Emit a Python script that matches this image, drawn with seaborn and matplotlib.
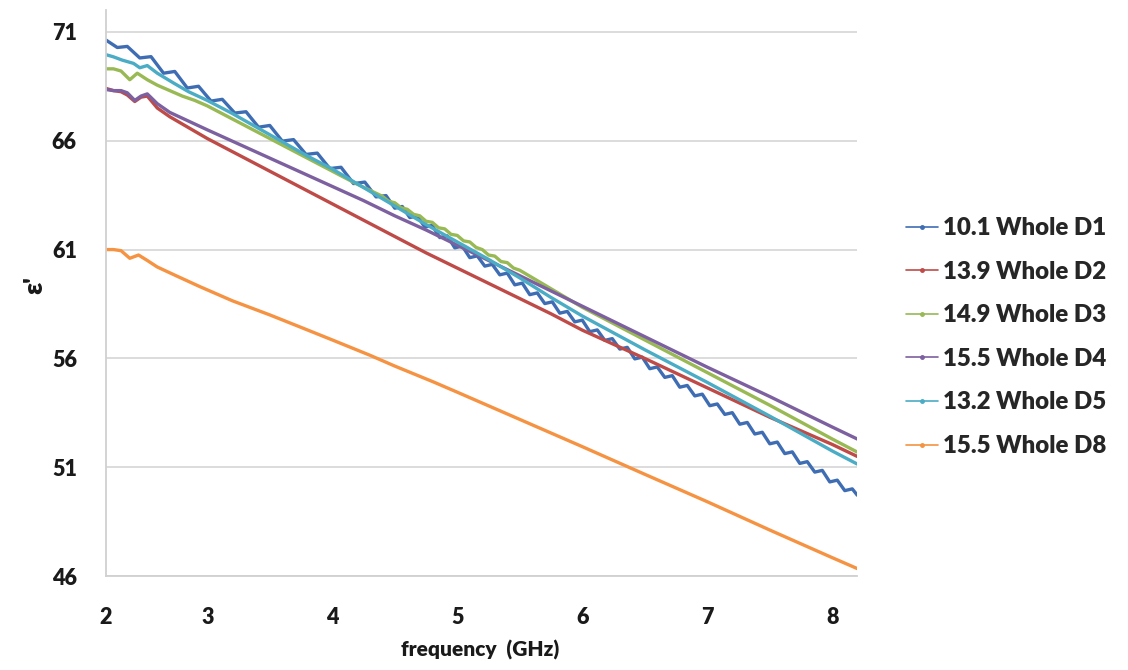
import matplotlib
matplotlib.use("Agg")
import matplotlib.pyplot as plt
from matplotlib.lines import Line2D
import pandas as pd
import seaborn as sns

# Real part of permittivity vs frequency for six whole samples
labels = ["10.1 Whole D1", "13.9 Whole D2", "14.9 Whole D3",
          "15.5 Whole D4", "13.2 Whole D5", "15.5 Whole D8"]
colors = ["#3F6DB4", "#BE4B48", "#98B954", "#7D60A0", "#4AACC5", "#F59342"]

freq_d1 = [2.19, 2.28, 2.36, 2.46, 2.55, 2.65, 2.74, 2.84, 2.93, 3.03, 3.12, 3.22,
           3.31, 3.41, 3.50, 3.60, 3.69, 3.79, 3.88, 3.98, 4.07, 4.17, 4.26, 4.35,
           4.43, 4.50, 4.56, 4.62, 4.68, 4.74, 4.80, 4.86, 4.92, 4.98, 5.04, 5.10,
           5.16, 5.22, 5.28, 5.34, 5.40, 5.46, 5.52, 5.58, 5.64, 5.70, 5.76, 5.82,
           5.88, 5.94, 6.00, 6.06, 6.12, 6.18, 6.24, 6.30, 6.36, 6.42, 6.48, 6.54,
           6.60, 6.66, 6.72, 6.78, 6.84, 6.90, 6.96, 7.02, 7.08, 7.14, 7.20, 7.26,
           7.32, 7.38, 7.44, 7.50, 7.56, 7.62, 7.68, 7.74, 7.80, 7.86, 7.92, 7.98,
           8.04, 8.10, 8.16, 8.20]
eps_d1 = [70.62, 70.28, 70.33, 69.80, 69.86, 69.10, 69.18, 68.42, 68.50, 67.82, 67.90, 67.27,
          67.33, 66.62, 66.70, 65.98, 66.05, 65.37, 65.43, 64.72, 64.78, 64.03, 64.10, 63.42,
          63.48, 62.90, 62.98, 62.47, 62.55, 62.03, 62.11, 61.55, 61.63, 61.08, 61.16, 60.63,
          60.71, 60.24, 60.32, 59.84, 59.92, 59.38, 59.46, 58.93, 59.01, 58.52, 58.60, 58.08,
          58.16, 57.68, 57.76, 57.23, 57.31, 56.83, 56.91, 56.43, 56.51, 55.98, 56.06, 55.53,
          55.61, 55.13, 55.21, 54.68, 54.76, 54.28, 54.36, 53.83, 53.91, 53.43, 53.51, 52.98,
          53.06, 52.53, 52.61, 52.08, 52.16, 51.63, 51.71, 51.18, 51.26, 50.78, 50.86, 50.33,
          50.41, 49.93, 50.01, 49.72]

freq_d2 = [2.19, 2.25, 2.31, 2.36, 2.42, 2.47, 2.52, 2.60, 2.70, 2.85, 3.00, 3.25,
           3.50, 3.75, 4.00, 4.25, 4.50, 4.75, 5.00, 5.25, 5.50, 5.75, 6.00, 6.50,
           7.00, 7.50, 8.00, 8.20]
eps_d2 = [68.40, 68.30, 68.25, 68.10, 67.80, 68.00, 68.05, 67.50, 67.10, 66.60, 66.10, 65.35,
          64.60, 63.85, 63.10, 62.35, 61.60, 60.85, 60.15, 59.45, 58.75, 58.05, 57.30, 56.00,
          54.65, 53.30, 52.05, 51.50]

freq_d3 = [2.19, 2.25, 2.31, 2.38, 2.44, 2.52, 2.60, 2.70, 2.80, 2.90, 3.00, 3.20,
           3.40, 3.60, 3.80, 4.00, 4.20, 4.40, 4.45, 4.50, 4.55, 4.60, 4.65, 4.70,
           4.75, 4.80, 4.85, 4.90, 4.95, 5.00, 5.05, 5.10, 5.15, 5.20, 5.25, 5.30,
           5.35, 5.40, 5.45, 5.50, 5.75, 6.00, 6.50, 7.00, 7.50, 8.00, 8.20]
eps_d3 = [69.30, 69.30, 69.20, 68.80, 69.10, 68.80, 68.55, 68.30, 68.05, 67.85, 67.60, 67.00,
          66.40, 65.80, 65.20, 64.60, 64.00, 63.45, 63.22, 63.15, 62.92, 62.85, 62.62, 62.55,
          62.30, 62.25, 62.00, 61.95, 61.70, 61.65, 61.40, 61.35, 61.10, 61.00, 60.75, 60.70,
          60.45, 60.40, 60.15, 60.05, 59.20, 58.35, 56.85, 55.35, 53.85, 52.30, 51.70]

freq_d4 = [2.19, 2.25, 2.31, 2.36, 2.42, 2.47, 2.52, 2.60, 2.70, 2.85, 3.00, 3.25,
           3.50, 3.75, 4.00, 4.25, 4.50, 4.75, 5.00, 5.50, 6.00, 6.50, 7.00, 7.50,
           8.00, 8.20]
eps_d4 = [68.35, 68.30, 68.30, 68.20, 67.85, 68.05, 68.15, 67.70, 67.30, 66.90, 66.50, 65.85,
          65.20, 64.55, 63.90, 63.25, 62.55, 61.90, 61.20, 59.80, 58.40, 57.00, 55.60, 54.25,
          52.85, 52.30]

freq_d5 = [2.19, 2.25, 2.32, 2.41, 2.46, 2.52, 2.60, 2.73, 2.85, 3.00, 3.20, 3.40,
           3.60, 3.80, 4.00, 4.25, 4.50, 4.75, 5.00, 5.25, 5.50, 5.75, 6.00, 6.50,
           7.00, 7.50, 8.00, 8.20]
eps_d5 = [69.95, 69.85, 69.70, 69.55, 69.35, 69.45, 69.10, 68.65, 68.25, 67.85, 67.25, 66.60,
          65.95, 65.30, 64.70, 63.85, 63.00, 62.15, 61.35, 60.55, 59.70, 58.80, 57.95, 56.40,
          54.90, 53.35, 51.75, 51.15]

freq_d8 = [2.19, 2.25, 2.31, 2.38, 2.45, 2.52, 2.60, 2.75, 2.94, 3.20, 3.50, 3.74,
           4.00, 4.30, 4.50, 4.81, 5.00, 5.50, 6.00, 6.50, 7.00, 7.50, 8.00, 8.20]
eps_d8 = [61.00, 61.00, 60.95, 60.60, 60.75, 60.50, 60.20, 59.80, 59.30, 58.65, 58.00, 57.45,
          56.85, 56.15, 55.65, 54.92, 54.45, 53.20, 51.95, 50.68, 49.42, 48.12, 46.85, 46.35]

x_tick_labels = ["2", "3", "4", "5", "6", "7", "8"]
y_ticks = [46, 51, 56, 61, 66, 71]

series = [(freq_d1, eps_d1), (freq_d2, eps_d2), (freq_d3, eps_d3),
          (freq_d4, eps_d4), (freq_d5, eps_d5), (freq_d8, eps_d8)]
frames = [pd.DataFrame({"frequency": f, "eps": e, "sample": name})
          for (f, e), name in zip(series, labels)]
df = pd.concat(frames, ignore_index=True)

sns.set_theme(style="white")
plt.rcParams["font.family"] = ["Lato", "DejaVu Sans"]
plt.rcParams["font.weight"] = "bold"

text_color = "#1a1a1a"

fig = plt.figure(figsize=(11.28, 6.70), dpi=100)
ax = fig.add_axes([0.094, 0.140, 0.666, 0.845])

ax.yaxis.grid(True, color="#D9D9D9", linewidth=1.3)
ax.set_axisbelow(True)

sns.lineplot(data=df, x="frequency", y="eps", hue="sample", hue_order=labels,
             palette=colors, estimator=None, linewidth=2.4, legend=False, ax=ax)

f_start, f_end = freq_d1[0], freq_d1[-1]
ax.set_xlim(f_start, f_end)
ax.set_ylim(46, 72)
ax.set_xticks([f_start, 3, 4, 5, 6, 7, 8])
ax.set_xticklabels(x_tick_labels)
ax.set_yticks(y_ticks)
ax.set_yticklabels([str(v) for v in y_ticks])
ax.tick_params(axis="both", length=0, labelsize=15.5, colors=text_color)
ax.tick_params(axis="y", pad=21)
ax.tick_params(axis="x", pad=22)
for lab in ax.get_xticklabels() + ax.get_yticklabels():
    lab.set_fontweight("heavy")

for side in ["top", "right"]:
    ax.spines[side].set_visible(False)
for side in ["left", "bottom"]:
    ax.spines[side].set_color("#D0D0D0")
    ax.spines[side].set_linewidth(1.3)

ax.set_xlabel("frequency  (GHz)", fontsize=15, fontweight="heavy", color=text_color)
ax.xaxis.set_label_coords(0.498, -0.113)
ax.set_ylabel("ε'", fontsize=19, fontweight="heavy", color=text_color)
ax.yaxis.set_label_coords(-0.079, 0.514)

handles = [Line2D([0], [0], color=c, linewidth=1.2, marker="o", markersize=2.5)
           for c in colors]
fig.legend(handles, labels, loc="center left", bbox_to_anchor=(0.784, 0.497),
           frameon=False, handlelength=1.35, handletextpad=0.2,
           labelspacing=0.9, prop={"weight": "heavy", "size": 17.3})

fig.savefig("out.png", dpi=100, facecolor="white")
